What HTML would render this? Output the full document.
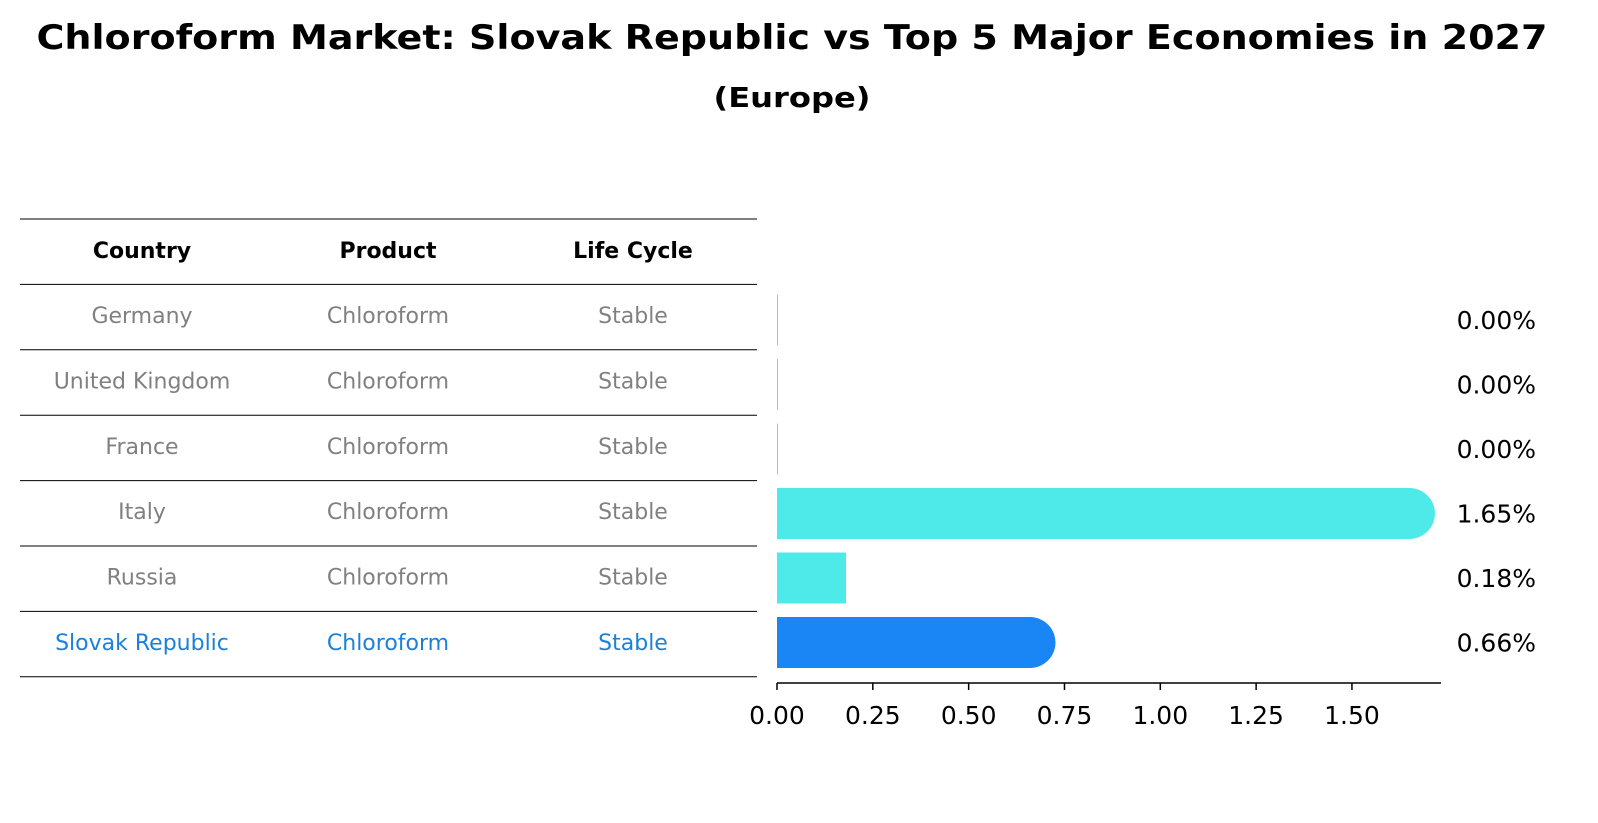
<!DOCTYPE html>
<html><head><meta charset="utf-8"><style>
body{margin:0;background:#fff;font-family:"Liberation Sans","DejaVu Sans",sans-serif}
#wrap{position:relative;width:1598px;height:823px;overflow:hidden}
</style></head><body>
<div id="wrap">
<svg id="svg" width="1598" height="823" xmlns="http://www.w3.org/2000/svg" font-family="DejaVu Sans, Liberation Sans, sans-serif">
<text x="792" y="49" text-anchor="middle" font-size="34" font-weight="bold" textLength="1511" lengthAdjust="spacingAndGlyphs">Chloroform Market: Slovak Republic vs Top 5 Major Economies in 2027</text>
<text x="792" y="107" text-anchor="middle" font-size="28" font-weight="bold" textLength="157" lengthAdjust="spacingAndGlyphs">(Europe)</text>
<g id="table"></g>
<g id="bars"></g>
</svg>
</div>
<script>
const countries=["Germany","United Kingdom","France","Italy","Russia","Slovak Republic"];
const products=["Chloroform","Chloroform","Chloroform","Chloroform","Chloroform","Chloroform"];
const lifecycle=["Stable","Stable","Stable","Stable","Stable","Stable"];
const values=[0.00,0.00,0.00,1.65,0.18,0.66];
const ticks=[0,0.25,0.5,0.75,1.0,1.25,1.5];
const NS="http://www.w3.org/2000/svg";
const tbl=document.getElementById('table'),bg=document.getElementById('bars');
function mk(p,t,a){const e=document.createElementNS(NS,t);for(const k in a)e.setAttribute(k,a[k]);p.appendChild(e);return e;}
const x=v=>777+v*383.3;
const rowY=i=>320+i*64.5;
const colX=[142,388,633];
for(let i=0;i<8;i++){const y=219+i*65.4;
const l=mk(tbl,'line',{x1:20,x2:757,y1:y,y2:y,stroke:'#000','stroke-width':1});

}
["Country","Product","Life Cycle"].forEach((h,j)=>{const t=mk(tbl,'text',{x:colX[j],y:258,'text-anchor':'middle','font-size':22,'font-weight':'bold'});t.textContent=h;

});
countries.forEach((c,i)=>{const y=323+i*65.4;const col=i===countries.length-1?'#1a80d9':'#808080';
[c,products[i],lifecycle[i]].forEach((s,j)=>{const t=mk(tbl,'text',{x:colX[j],y:y,'text-anchor':'middle','font-size':22,fill:col});t.textContent=s;

});});
const h=51,r=25.5;
values.forEach((v,i)=>{const cy=rowY(i),y0=cy-h/2,last=i===values.length-1;const col=last?'#1a86f5':'#4deae9';
let e;
if(v>0.5){const xe=x(v);e=mk(bg,'path',{d:`M777 ${y0} H${xe} A${r} ${r} 0 0 1 ${xe} ${y0+h} H777 Z`,fill:col});}
else{e=mk(bg,'rect',{x:777,y:y0,width:Math.max(x(v)-777,1),height:h,fill:col});}


const t=mk(bg,'text',{x:1536,y:cy+9,'text-anchor':'end','font-size':25});t.textContent=v.toFixed(2)+'%';

});
const ax=mk(bg,'line',{x1:777,x2:1441,y1:683,y2:683,stroke:'#000','stroke-width':1.5});


ticks.forEach(v=>{const tk=mk(bg,'line',{x1:x(v),x2:x(v),y1:683,y2:690,stroke:'#000','stroke-width':1.5});


const t=mk(bg,'text',{x:x(v),y:724,'text-anchor':'middle','font-size':25});t.textContent=v.toFixed(2);

});
</script>
</body></html>
